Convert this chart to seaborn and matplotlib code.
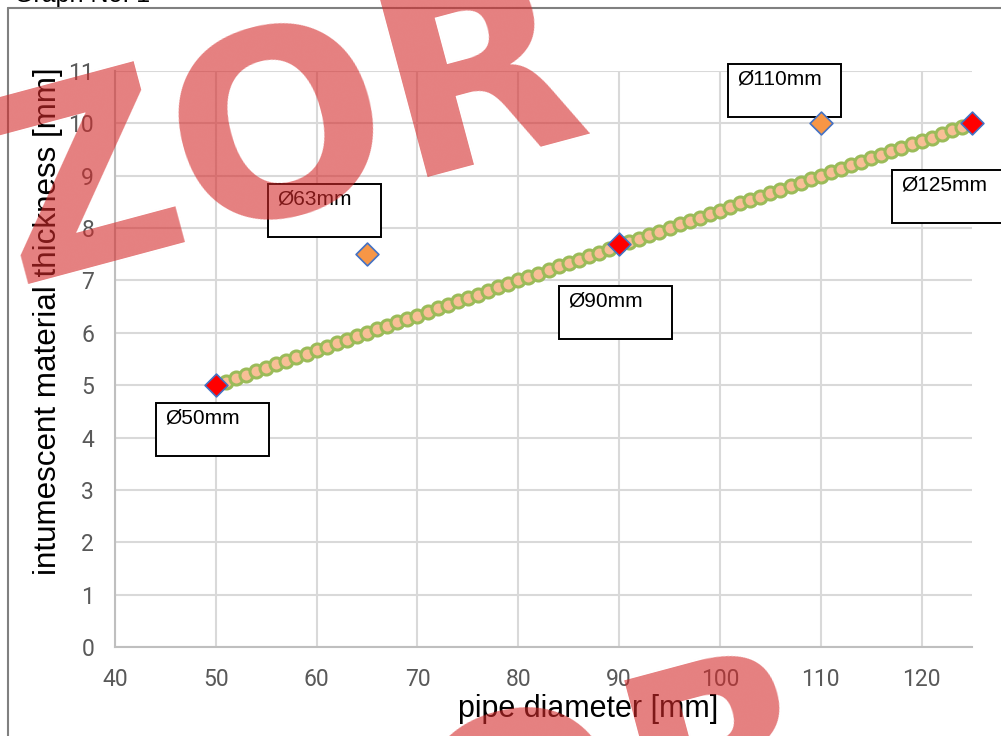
import matplotlib
matplotlib.use("Agg")
import matplotlib.pyplot as plt
from matplotlib.patches import Rectangle
from matplotlib.lines import Line2D
import seaborn as sns
import pandas as pd

# trend series (circles)
pipe_d = [50, 51, 52, 53, 54, 55, 56, 57, 58, 59, 60, 61, 62, 63, 64, 65, 66, 67, 68, 69,
          70, 71, 72, 73, 74, 75, 76, 77, 78, 79, 80, 81, 82, 83, 84, 85, 86, 87, 88, 89,
          90, 91, 92, 93, 94, 95, 96, 97, 98, 99, 100, 101, 102, 103, 104, 105, 106, 107, 108, 109,
          110, 111, 112, 113, 114, 115, 116, 117, 118, 119, 120, 121, 122, 123, 124, 125]
thickness = [5.00, 5.07, 5.13, 5.20, 5.27, 5.33, 5.40, 5.47, 5.53, 5.60, 5.67, 5.73, 5.80, 5.87, 5.93,
             6.00, 6.07, 6.13, 6.20, 6.27, 6.33, 6.40, 6.47, 6.53, 6.60, 6.67, 6.73, 6.80, 6.87, 6.93,
             7.00, 7.07, 7.13, 7.20, 7.27, 7.33, 7.40, 7.47, 7.53, 7.60, 7.67, 7.73, 7.80, 7.87, 7.93,
             8.00, 8.07, 8.13, 8.20, 8.27, 8.33, 8.40, 8.47, 8.53, 8.60, 8.67, 8.73, 8.80, 8.87, 8.93,
             9.00, 9.07, 9.13, 9.20, 9.27, 9.33, 9.40, 9.47, 9.53, 9.60, 9.67, 9.73, 9.80, 9.87, 9.93,
             10.00]

# tested pipes
orange_d = [65, 110]
orange_t = [7.5, 10.0]
red_d = [50, 90, 125]
red_t = [5.0, 7.7, 10.0]

labels = ["Ø50mm", "Ø63mm", "Ø90mm", "Ø110mm", "Ø125mm"]
# top-left corner of each label box (data coords)
label_pos = [(44.1, 4.66), (55.2, 8.84), (84.05, 6.89), (100.8, 11.13), (117.1, 9.11)]

xticks = [40, 50, 60, 70, 80, 90, 100, 110, 120]
yticks = [0, 1, 2, 3, 4, 5, 6, 7, 8, 9, 10, 11]

sns.set_theme(style="whitegrid")
plt.rcParams["font.family"] = ["Liberation Sans", "DejaVu Sans"]

W, H = 1001, 736
fig = plt.figure(figsize=(W / 100, H / 100), dpi=100)
ax = fig.add_axes([115 / W, 1 - 647 / H, (972 - 115) / W, (647 - 71) / H])

trend = pd.DataFrame({"d": pipe_d, "t": thickness})
sns.scatterplot(data=trend, x="d", y="t", ax=ax, marker="o", s=88,
                color="#F8BF96", edgecolor="#9BBB59", linewidth=2.2, zorder=3, clip_on=False)
sns.scatterplot(x=orange_d, y=orange_t, ax=ax, marker="D", s=135,
                color="#F79646", edgecolor="#4472C4", linewidth=1.2, zorder=5, clip_on=False)
sns.scatterplot(x=red_d, y=red_t, ax=ax, marker="D", s=135,
                color="#FF0000", edgecolor="#4472C4", linewidth=1.2, zorder=5, clip_on=False)

ax.set_xlim(40, 125)
ax.set_ylim(0, 11)
ax.set_xticks(xticks)
ax.set_yticks(yticks)
ax.grid(True, color="#D9D9D9", linewidth=1.5)
ax.set_axisbelow(True)
for s in ["top", "right"]:
    ax.spines[s].set_visible(False)
for s in ["left", "bottom"]:
    ax.spines[s].set_color("#BFBFBF")
    ax.spines[s].set_linewidth(1.5)
ax.tick_params(length=0, pad=15, labelsize=16.5, colors="#595959")
for lab in ax.get_xticklabels() + ax.get_yticklabels():
    lab.set_fontfamily("Roboto")
ax.set_xlabel("")
ax.set_ylabel("")

# label boxes
bw = 113 / 857 * 85
bh = 53 / 576 * 11
for txt, (x0, y0) in zip(labels, label_pos):
    ax.add_patch(Rectangle((x0, y0 - bh), bw, bh, facecolor="white", edgecolor="black",
                           linewidth=1.4, clip_on=False, zorder=4))
    ax.text(x0 + 0.9, y0 - 0.1, txt, ha="left", va="top", fontsize=15,
            color="black", zorder=4.5, clip_on=False)

fig.text(588 / W, 1 - 709 / H, "pipe diameter [mm]", ha="center", va="center",
         fontsize=22, color="black")
fig.text(48 / W, 1 - 321 / H, "intumescent material thickness [mm]", ha="center",
         va="center", rotation=90, fontsize=22.6, color="black")

# chart frame and cut title
fig.add_artist(Line2D([8 / W, 8 / W], [0, 1 - 8 / H], color="#808080", linewidth=1.5))
fig.add_artist(Line2D([8 / W, 1], [1 - 8 / H, 1 - 8 / H], color="#808080", linewidth=1.5))
fig.text(14 / W, 1 - 2 / H, "Graph No. 1", ha="left", va="baseline", fontsize=18, color="black")

# watermark
for dx, dy in [(0, 0), (245, 684)]:
    fig.text((16 + dx) / W, 1 - (284 + dy) / H, "ZOR", rotation=15, rotation_mode="anchor",
             ha="left", va="baseline", fontsize=184, fontweight="bold", family="DejaVu Sans",
             color="#D42A2A", alpha=0.6, zorder=10)

fig.savefig("out.png", dpi=100)
